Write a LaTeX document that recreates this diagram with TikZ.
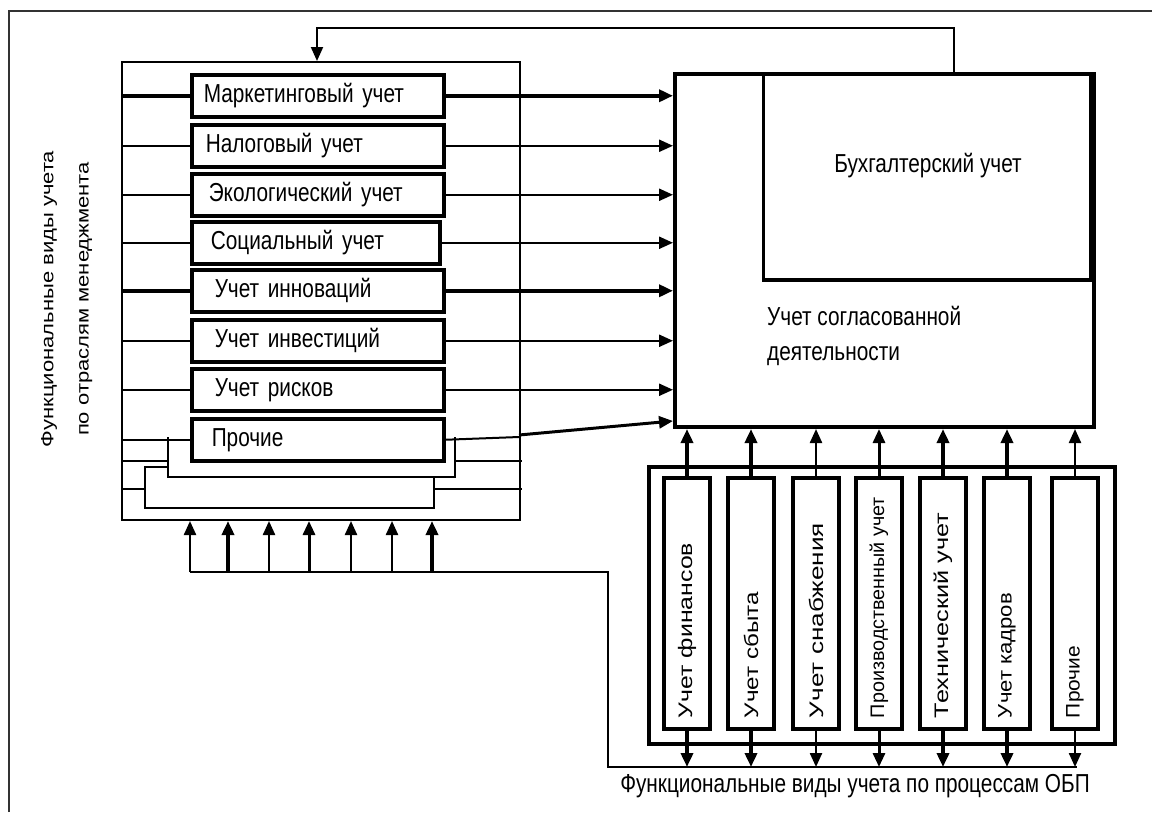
\documentclass[tikz,border=0pt]{standalone}
\usepackage{fontspec}
\usepackage{graphicx}
\setmainfont{Liberation Sans}
\newfontfamily\hf{Liberation Sans}[FakeStretch=0.8]
\usetikzlibrary{arrows.meta}
\newcommand\mkvt[2]{\rotatebox{90}{\makebox[229pt][l]{\resizebox{#1}{0.85\height}{\fontsize{23}{25}\selectfont #2}}}}
\begin{document}
\begin{tikzpicture}[x=1pt,y=-1pt,
  ln/.style={line width=2pt},
  hd/.style={-{Triangle[length=14pt,width=12pt]}},
  arN/.style={line width=2.3pt,hd},
  arM/.style={line width=3pt,hd},
  arT/.style={line width=4.2pt,hd},
  lbox/.style={draw,line width=3.5pt,minimum width=252pt,minimum height=42pt,text width=228pt,inner xsep=12pt,inner ysep=0pt,align=left,anchor=north west,font=\hf\fontsize{26}{30}\selectfont},
  vbox/.style={draw,line width=3.5pt,minimum width=46pt,minimum height=251pt,inner sep=0pt},
  htxt/.style={font=\hf\fontsize{26}{30}\selectfont,inner sep=0pt}
]
\useasboundingbox (0,0) rectangle (1152,812);
% outer frame (visible edges)
\draw[line width=2pt,black!80] (9,812) -- (9,11) -- (1152,11);

% left container
\node[draw,ln,minimum width=398pt,minimum height=458pt,anchor=north west,inner sep=0pt] (lc) at (121,61) {};

% left boxes
\node[lbox] (m1) at (190,73) {Маркетинговый учет};
\node[lbox] (m2) at (190,123) {\hspace*{2pt}Налоговый учет};
\node[lbox] (m3) at (190,172) {\hspace*{5pt}Экологический учет};
\node[lbox,minimum width=248pt,text width=224pt] (m4) at (190,220) {\hspace*{7pt}Социальный учет};
\node[lbox] (m5) at (190,268) {\hspace*{11pt}Учет инноваций};
\node[lbox] (m6) at (190,318) {\hspace*{11pt}Учет инвестиций};
\node[lbox] (m7) at (190,367) {\hspace*{11pt}Учет рисков};
\node[lbox] (m8) at (190,417) {\hspace*{8pt}Прочие};

% big box
\node[draw,line width=4pt,minimum width=419pt,minimum height=353pt,anchor=north west,inner sep=0pt] (bu) at (673,72) {};
\node[draw,line width=3.5pt,minimum width=327pt,minimum height=206pt,anchor=north east,inner sep=0pt] (bh) at (1092,72) {};
\node[htxt,anchor=base] (bht) at (928,172) {Бухгалтерский учет};
\node[htxt,anchor=base west] (sg1) at (767,325) {Учет согласованной};
\node[htxt,anchor=base west] (sg2) at (767,360) {деятельности};

% left vertical label
\node[rotate=90,inner sep=0pt] (lab) at (64,299) {\scalebox{1}[0.8]{\fontsize{22}{44}\selectfont\begin{tabular}{@{}c@{}}Функциональные виды учета\\по отраслям менеджмента\end{tabular}}};

% incoming lines to left boxes
\draw[line width=4.2pt] (lc.west |- m1) -- (m1.west);
\draw[line width=2.3pt] (lc.west |- m2) -- (m2.west);
\draw[line width=2.3pt] (lc.west |- m3) -- (m3.west);
\draw[line width=2.3pt] (lc.west |- m4) -- (m4.west);
\draw[line width=4.2pt] (lc.west |- m5) -- (m5.west);
\draw[line width=2.3pt] (lc.west |- m6) -- (m6.west);
\draw[line width=2.3pt] (lc.west |- m7) -- (m7.west);
\draw[ln] (lc.west |- m8) -- (m8.west);

% arrows to big box
\draw[arT] (m1.east) -- (m1 -| bu.west);
\draw[arN] (m2.east) -- (m2 -| bu.west);
\draw[arN] (m3.east) -- (m3 -| bu.west);
\draw[arN] (m4.east) -- (m4 -| bu.west);
\draw[arT] (m5.east) -- (m5 -| bu.west);
\draw[arN] (m6.east) -- (m6 -| bu.west);
\draw[arN] (m7.east) -- (m7 -| bu.west);
\coordinate (p8) at (519,437);
\coordinate (q8) at (673,421);
\draw[ln] (m8.east) -- (p8);
\draw[arM] (519,435) -- (q8);

% brackets below "Прочие"
\draw[ln] (168,437) -- (168,477) -- (455,477) -- (455,437);
\draw[ln] (121,461) -- (168,461);
\draw[ln] (455,461) -- (522,461);
\draw[ln] (168,467) -- (145,467) -- (145,508) -- (434,508) -- (434,477);
\draw[ln] (121,489) -- (145,489);
\draw[ln] (434,489) -- (522,489);

% feedback line
\coordinate (fbR) at (954,28);
\coordinate (fbL) at (317,28);
\draw[ln,hd] (fbR |- bu.north) -- (fbR) -- (fbL) -- (fbL |- lc.north);

% right block
\node[draw,line width=3.5pt,minimum width=466pt,minimum height=277pt,anchor=north west,inner sep=0pt] (rb) at (647,465) {};
\node[vbox] (v1) at (687,603.5) {\mkvt{175pt}{Учет финансов}};
\node[vbox] (v2) at (751,603.5) {\mkvt{126pt}{Учет сбыта}};
\node[vbox] (v3) at (816,603.5) {\mkvt{195pt}{Учет снабжения}};
\node[vbox] (v4) at (879,603.5) {\mkvt{221pt}{Производственный учет}};
\node[vbox] (v5) at (943,603.5) {\mkvt{205pt}{Технический учет}};
\node[vbox] (v6) at (1007,603.5) {\mkvt{125pt}{Учет кадров}};
\node[vbox] (v7) at (1075,603.5) {\mkvt{72pt}{Прочие}};

% up arrows into big box
\draw[arT] (v1.north) -- (v1.north |- bu.south);
\draw[arT] (v2.north) -- (v2.north |- bu.south);
\draw[arN] (v3.north) -- (v3.north |- bu.south);
\draw[arM] (v4.north) -- (v4.north |- bu.south);
\draw[arT] (v5.north) -- (v5.north |- bu.south);
\draw[arT] (v6.north) -- (v6.north |- bu.south);
\draw[arN] (v7.north) -- (v7.north |- bu.south);

% bottom bus
\coordinate (u1) at (190,572);
\coordinate (u2) at (228,572);
\coordinate (u3) at (269,572);
\coordinate (u4) at (309,572);
\coordinate (u5) at (351,572);
\coordinate (u6) at (392,572);
\coordinate (u7) at (432,572);
\coordinate (bc) at (608,572);
\coordinate (bd) at (608,767);
\coordinate (be) at (1077,767);
\draw[ln] (u1) -- (bc) -- (bd) -- (be);
\draw[arN] (u1) -- (u1 |- lc.south);
\draw[arT] (u2) -- (u2 |- lc.south);
\draw[arN] (u3) -- (u3 |- lc.south);
\draw[arM] (u4) -- (u4 |- lc.south);
\draw[arN] (u5) -- (u5 |- lc.south);
\draw[arN] (u6) -- (u6 |- lc.south);
\draw[arT] (u7) -- (u7 |- lc.south);

% down arrows to bus
\draw[arT] (v1.south) -- (v1.south |- bd);
\draw[arT] (v2.south) -- (v2.south |- bd);
\draw[arN] (v3.south) -- (v3.south |- bd);
\draw[arM] (v4.south) -- (v4.south |- bd);
\draw[arT] (v5.south) -- (v5.south |- bd);
\draw[arT] (v6.south) -- (v6.south |- bd);
\draw[arN] (v7.south) -- (v7.south |- bd);

\node[htxt,anchor=base] (bt) at (855,792) {Функциональные виды учета по процессам ОБП};
\end{tikzpicture}
\end{document}
